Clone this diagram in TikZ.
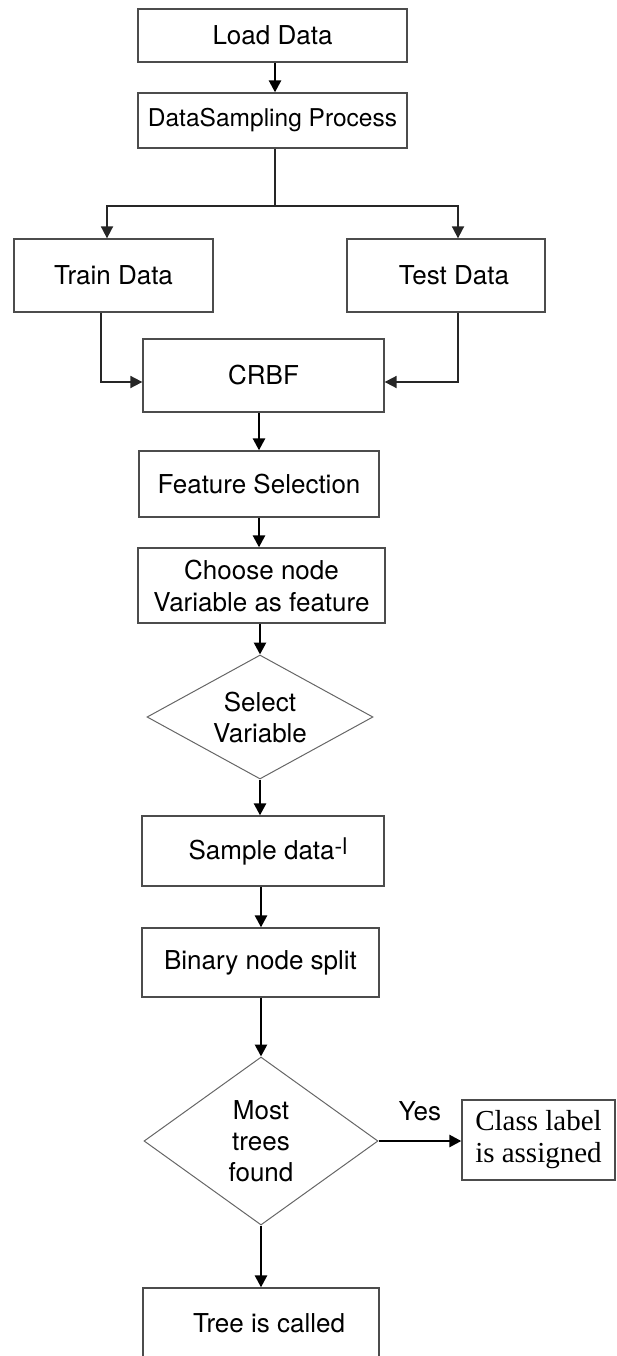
\documentclass[tikz,border=0pt]{standalone}
\usepackage{fontspec}
\setmainfont{TeX Gyre Heros}
\newfontfamily\serifface{Liberation Serif}
\usetikzlibrary{arrows.meta,shapes.geometric}

\begin{document}
\begin{tikzpicture}[x=1pt,y=-1pt,
  box/.style={draw=black!70, line width=1.3pt, rectangle, inner sep=0pt,
    align=center, font=\fontsize{26}{32}\selectfont},
  decision/.style={draw=black!60, line width=1pt, diamond, inner sep=0pt,
    align=center, font=\fontsize{26}{31}\selectfont},
  arr/.style={draw=black, line width=2.6pt, -{Triangle[length=12pt,width=12pt]}},
  elbow/.style={draw=black!85, line width=1.8pt, -{Triangle[length=12pt,width=12pt]}},
  plain/.style={draw=black!85, line width=1.8pt}]

\clip (0,0) rectangle (616,1356);
\useasboundingbox (0,0) rectangle (616,1356);

% process boxes
\node[box, minimum width=269, minimum height=53] (load) at (272.5,35.5) {Load Data};
\node[box, minimum width=269, minimum height=55, font=\fontsize{24.5}{30}\selectfont] (samp) at (272.5,120.5) {DataSampling Process};
\coordinate (split) at (275,206);
\node[box, minimum width=199, minimum height=73] (train) at (113.5,275.5) {Train Data};
\node[box, minimum width=198, minimum height=73] (test) at (446,275.5) {\hspace{16pt}Test Data};
\node[box, minimum width=241, minimum height=73] (crbf) at (263.5,375.5) {CRBF};
\node[box, minimum width=240, minimum height=66] (feat) at (259,484) {Feature Selection};
\node[box, minimum width=247, minimum height=75] (choose) at (261.5,585.5) {Choose node\\Variable as feature};
\node[decision, minimum width=226, minimum height=124, shape aspect=1.8] (sel) at (260,717) {Select\\Variable};
\node[box, minimum width=242, minimum height=70] (sample) at (263,851)
  {\hspace{10pt}Sample data\raisebox{5pt}{\fontsize{23}{23}\selectfont -l}};
\node[box, minimum width=237, minimum height=69] (binary) at (260.5,962.5) {Binary node split};
\node[decision, minimum width=234, minimum height=168, shape aspect=1.4] (most) at (261,1141) {Most\\trees\\found};
\node[box, minimum width=153, minimum height=80, font=\serifface\fontsize{29}{32}\selectfont] (class) at (538.5,1140)
  {Class label\\is assigned};
\node[box, minimum width=236, minimum height=70] (tree) at (261,1323) {\hspace{16pt}Tree is called};

% connectors
\draw[arr] (load.south -| split) -- (samp.north -| split);
\draw[plain] (samp.south -| split) -- (split);
\draw[elbow] (split) -| ([xshift=-6.5pt]train.north);
\draw[elbow] (split) -| ([xshift=12pt]test.north);
\draw[elbow] ([xshift=-12.5pt]train.south) |- ([yshift=-6.5pt]crbf.west);
\draw[elbow] ([xshift=12pt]test.south) |- ([yshift=-6.5pt]crbf.east);
\draw[arr] (crbf.south -| feat) -- (feat.north);
\draw[arr] (feat.south) -- (feat.south |- choose.north);
\draw[arr] (choose.south -| sel) -- (sel.north);
\draw[arr] (sel.south) -- (sel.south |- sample.north);
\draw[arr] (sample.south -| most) -- (binary.north -| most);
\draw[arr] (binary.south -| most) -- (most.north);
\draw[arr] (most.east) -- node[above=15pt, font=\fontsize{26}{30}\selectfont] (yes) {Yes} (most.east -| class.west);
\draw[arr] (most.south) -- (tree.north);
\end{tikzpicture}
\end{document}
